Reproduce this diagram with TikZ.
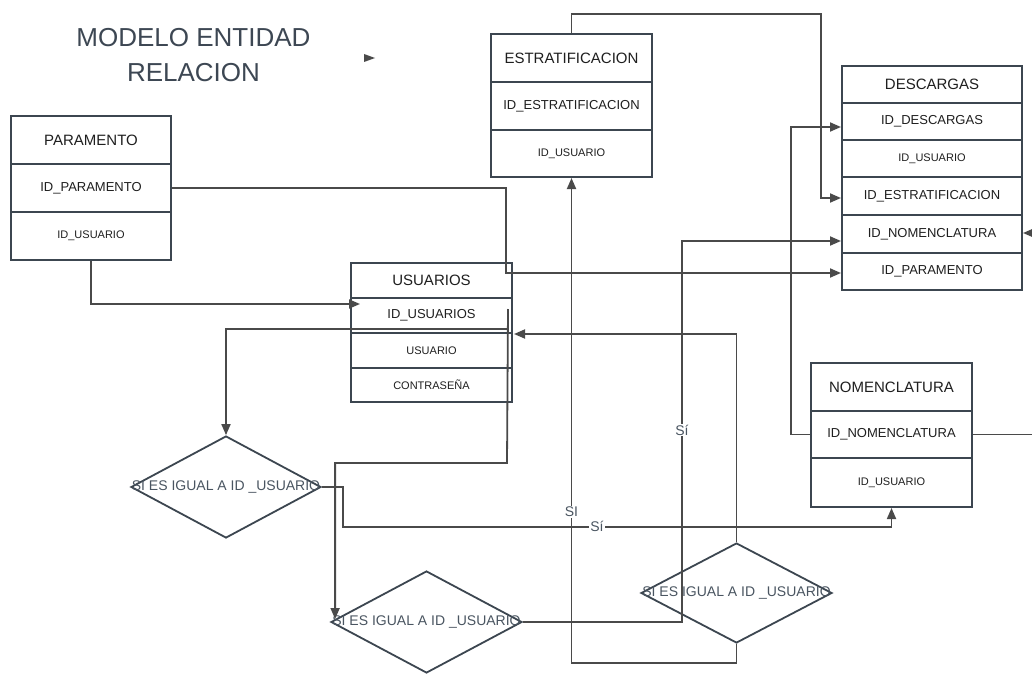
\documentclass[tikz,border=0pt]{standalone}
\usepackage{fontspec}
\setmainfont{Liberation Sans}
\usetikzlibrary{arrows.meta,shapes.geometric}
\definecolor{boxc}{HTML}{3C4650}
\definecolor{linec}{HTML}{4A4A4A}
\definecolor{txtc}{HTML}{1F1F1F}
\definecolor{titc}{HTML}{3D4753}
\definecolor{dtxt}{HTML}{4A5561}
\begin{document}
\begin{tikzpicture}[x=1pt,y=-1pt,
  tblrow/.style={draw=boxc, line width=2pt, rectangle, inner sep=0pt, text=txtc, align=center},
  hdr/.style={tblrow, font=\fontsize{15}{18}\selectfont},
  fld/.style={tblrow, font=\fontsize{13}{16}\selectfont},
  sml/.style={tblrow, font=\fontsize{11}{13}\selectfont},
  conn/.style={draw=linec, line width=1.8pt},
  arr/.style={conn, -{Triangle[length=11pt,width=9pt]}},
  dia/.style={diamond, draw=boxc, line width=1.8pt, inner sep=0pt},
  dtext/.style={text=dtxt, font=\fontsize{14}{16}\selectfont, inner sep=0pt},
  lbl/.style={fill=white, text=dtxt, font=\fontsize{14}{16}\selectfont, inner sep=1pt},
  titl/.style={text=titc, font=\fontsize{26}{30}\selectfont, anchor=base, inner sep=0pt}
]
\useasboundingbox (0,0) rectangle (1032,674);
\fill[white] (0,0) rectangle (1032,674);

% title
\node[titl] (t1) at (193.5,47) {MODELO ENTIDAD};
\node[titl] (t2) at (193.5,82) {RELACION};
\fill[linec] (364,54) -- (375,58) -- (364,62) -- cycle;

% PARAMENTO
\node[hdr, minimum width=160pt, minimum height=48pt] (par1) at (91,140) {PARAMENTO};
\node[fld, minimum width=160pt, minimum height=48pt] (par2) at (91,188) {ID\_PARAMENTO};
\node[sml, minimum width=160pt, minimum height=48pt] (par3) at (91,236) {ID\_USUARIO};

% USUARIOS
\node[hdr, minimum width=161pt, minimum height=35pt] (usu1) at (431.5,280.5) {USUARIOS};
\node[fld, minimum width=161pt, minimum height=35pt] (usu2) at (431.5,315.5) {ID\_USUARIOS};
\node[sml, minimum width=161pt, minimum height=35pt] (usu3) at (431.5,350.5) {USUARIO};
\node[sml, minimum width=161pt, minimum height=34pt] (usu4) at (431.5,385) {CONTRASEÑA};

% ESTRATIFICACION
\node[hdr, minimum width=161pt, minimum height=48pt] (est1) at (571.5,58) {ESTRATIFICACION};
\node[fld, minimum width=161pt, minimum height=48pt] (est2) at (571.5,106) {ID\_ESTRATIFICACION};
\node[sml, minimum width=161pt, minimum height=47pt] (est3) at (571.5,153.5) {ID\_USUARIO};

% DESCARGAS
\node[hdr, minimum width=180pt, minimum height=37pt] (desc1) at (932,84.5) {DESCARGAS};
\node[fld, minimum width=180pt, minimum height=37pt] (desc2) at (932,121.5) {ID\_DESCARGAS};
\node[sml, minimum width=180pt, minimum height=37pt] (desc3) at (932,158.5) {ID\_USUARIO};
\node[fld, minimum width=180pt, minimum height=38pt] (desc4) at (932,196) {ID\_ESTRATIFICACION};
\node[fld, minimum width=180pt, minimum height=38pt] (desc5) at (932,234) {ID\_NOMENCLATURA};
\node[fld, minimum width=180pt, minimum height=37pt] (desc6) at (932,271.5) {ID\_PARAMENTO};

% NOMENCLATURA
\node[hdr, minimum width=161pt, minimum height=48pt] (nom1) at (891.5,387) {NOMENCLATURA};
\node[fld, minimum width=161pt, minimum height=47pt] (nom2) at (891.5,434.5) {ID\_NOMENCLATURA};
\node[sml, minimum width=161pt, minimum height=49pt] (nom3) at (891.5,482.5) {ID\_USUARIO};

% diamonds
\node[dia, minimum width=190pt, minimum height=102pt, label={[dtext]center:SI ES IGUAL A ID \_USUARIO}] (d1) at (226,487) {};
\node[dia, minimum width=191pt, minimum height=102pt, label={[dtext]center:SI ES IGUAL A ID \_USUARIO}] (d2) at (426.5,622) {};
\node[dia, minimum width=191pt, minimum height=100pt, label={[dtext]center:SI ES IGUAL A ID \_USUARIO}] (d3) at (736.5,593) {};

% connectors
\draw[arr] (par3.south) |- ([xshift=10pt,yshift=11.5pt]usu2.west);
\draw[arr] (par2.east) -| (506,273) -- ([yshift=-1.5pt]desc6.west);
\draw[arr] (est1.north) |- (821,14) |- ([yshift=-2pt]desc4.west);
\draw[arr] (nom2.west) -- (791,434.5) |- ([yshift=-5.5pt]desc2.west);
\draw[arr] (nom2.east) -- (1045,434.5) |- ([yshift=1pt]desc5.east);
\draw[arr] (d2.east) -- (682,622) |- ([yshift=-7pt]desc5.west);
\draw[arr] (d3.north) |- ([xshift=1pt]usu2.south east);
\draw[arr] (d3.south) -- (736.5,663) -| (est3.south);
\draw[arr] (d1.east) -| (343,527) -| (nom3.south);
\draw[arr] ([xshift=-6pt,yshift=5pt]usu2.south east) -| (d1.north);
\draw[arr] ([xshift=-5pt,yshift=-12pt]usu2.north east) -- (507,463) -| ([xshift=5pt,yshift=3pt]d2.west);

% labels
\node[lbl] (l1) at (682,430) {Sí};
\node[lbl] (l2) at (571.5,512) {SI};
\node[lbl] (l3) at (597,526) {Sí};
\end{tikzpicture}
\end{document}
